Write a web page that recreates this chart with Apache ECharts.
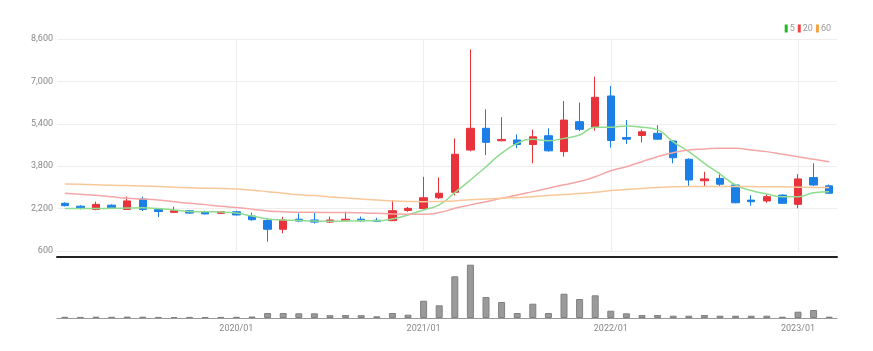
<!DOCTYPE html>
<html>
<head>
<meta charset="utf-8">
<script src="https://cdn.jsdelivr.net/npm/echarts@6/dist/echarts.min.js"></script>
<style>
  html, body { margin: 0; padding: 0; background: #fff; }
  #chart { width: 873px; height: 351px; }
</style>
</head>
<body>
<div id="chart"></div>
<script>
// monthly candles, 2019/02 - 2023/03
var dates = ['2019/02','2019/03','2019/04','2019/05','2019/06','2019/07','2019/08','2019/09','2019/10','2019/11','2019/12',
  '2020/01','2020/02','2020/03','2020/04','2020/05','2020/06','2020/07','2020/08','2020/09','2020/10','2020/11','2020/12',
  '2021/01','2021/02','2021/03','2021/04','2021/05','2021/06','2021/07','2021/08','2021/09','2021/10','2021/11','2021/12',
  '2022/01','2022/02','2022/03','2022/04','2022/05','2022/06','2022/07','2022/08','2022/09','2022/10','2022/11','2022/12',
  '2023/01','2023/02','2023/03'];
var opens  = [2400,2290,2170,2330,2170,2560,2170,2060,2120,2080,2020,2080,1920,1750,1420,1800,1770,1690,1760,1800,1760,1745,2130,
  2200,2610,2815,4410,5230,4760,4790,4620,4950,4350,5480,5270,6450,4880,4960,5040,4750,4060,3250,3340,3090,2520,2490,2710,2360,3370,3060];
var closes = [2310,2210,2360,2230,2490,2170,2090,2120,2030,2000,2080,1960,1780,1420,1770,1730,1690,1770,1800,1740,1720,2120,2210,
  2610,2780,4250,5230,4700,4810,4620,4910,4380,5540,5190,6400,4770,4820,5100,4820,4120,3280,3320,3120,2420,2460,2650,2400,3320,3090,2780];
var lows   = [2280,2170,2140,2200,2150,2110,1880,2030,2000,1980,2000,1940,1740,950,1270,1690,1640,1660,1750,1700,1690,1730,2080,
  2170,2560,2700,4360,4220,4740,4480,3910,4350,4160,5120,5140,4500,4640,4700,4800,3910,3030,3030,3050,2400,2310,2420,2380,2210,3050,2760];
var highs  = [2440,2330,2460,2360,2650,2650,2190,2270,2150,2120,2100,2120,2050,1830,1890,2020,2050,1900,2080,1900,1850,2525,2260,
  3400,3380,4850,8210,5950,5650,5000,5180,5230,6260,6200,7180,6830,5540,5180,5350,4780,4100,3590,3560,3100,2710,2750,2740,3500,3910,3110];
var volumes = [120,110,130,120,140,130,110,100,110,100,110,120,150,500,500,470,470,280,300,280,170,500,330,
  1730,1270,4170,5330,2100,1600,500,1430,500,2430,1900,2270,730,470,300,300,230,230,300,230,230,230,230,130,630,800,130];
var ma5  = [2200,2200,2200,2210,2220,2230,2200,2150,2090,2080,2070,2030,1920,1810,1770,1750,1730,1720,1730,1740,1740,1810,1960,
  2150,2340,2800,3280,3780,4290,4660,4820,4760,4850,4980,5270,5270,5320,5270,5170,4720,4350,3910,3500,3090,2880,2750,2650,2650,2800,2840];
var ma20 = [2780,2740,2700,2650,2590,2560,2520,2460,2400,2350,2290,2240,2180,2110,2080,2060,2060,2050,2050,2040,2020,2000,1990,
  1990,2050,2210,2340,2460,2590,2710,2840,2970,3100,3220,3400,3630,3780,3970,4160,4310,4410,4450,4480,4480,4410,4350,4250,4160,4060,3970];
var ma60 = [3130,3120,3100,3080,3070,3050,3030,3010,2990,2970,2960,2940,2890,2840,2780,2720,2690,2640,2600,2560,2520,2490,2470,
  2460,2470,2490,2530,2560,2590,2620,2650,2690,2730,2770,2820,2880,2920,2960,3000,3020,3030,3030,3030,3030,3030,3020,3020,3010,3000,3000];

var font = 'Roboto';
var isYearStart = function (idx, val) { return /\/01$/.test(val); };

var candles = dates.map(function (d, i) { return [opens[i], closes[i], lows[i], highs[i]]; });

var chart = echarts.init(document.getElementById('chart'));
chart.setOption({
  animation: false,
  legend: {
    right: 37, top: 19,
    itemWidth: 3, itemHeight: 8, itemGap: 3,
    icon: 'rect',
    data: ['5', '20', '60'],
    textStyle: { color: '#999', fontSize: 9, fontFamily: font, padding: [0, 0, 0, -3] }
  },
  grid: [
    { left: 57, right: 36, top: 39, height: 212 },
    { left: 57, right: 36, top: 262, height: 56 }
  ],
  xAxis: [{
    type: 'category', gridIndex: 0, data: dates, boundaryGap: true,
    offset: 6,
    axisLine: { lineStyle: { color: '#222', width: 2 } },
    axisTick: { show: false },
    axisLabel: { show: false },
    splitLine: { show: true, interval: isYearStart, alignWithLabel: true, lineStyle: { color: '#eee' } }
  }, {
    type: 'category', gridIndex: 1, data: dates, boundaryGap: true,
    axisLine: { lineStyle: { color: '#999' } },
    axisTick: { interval: isYearStart, alignWithLabel: true, length: 3, lineStyle: { color: '#555' } },
    axisLabel: { interval: isYearStart, color: '#888', fontSize: 9, fontFamily: font, margin: 6 },
    splitLine: { show: false }
  }],
  yAxis: [{
    type: 'value', gridIndex: 0, min: 600, max: 8600, interval: 1600,
    axisLine: { show: false }, axisTick: { show: false },
    axisLabel: { color: '#888', fontSize: 9, fontFamily: font, margin: 4 },
    splitLine: { lineStyle: { color: '#eee' } }
  }, {
    type: 'value', gridIndex: 1, min: 0, max: 5600,
    axisLine: { show: false }, axisTick: { show: false },
    axisLabel: { show: false }, splitLine: { show: false }
  }],
  series: [{
    type: 'candlestick', name: 'price', xAxisIndex: 0, yAxisIndex: 0,
    data: candles, barWidth: 8,
    itemStyle: { color: '#e8333c', color0: '#1b7fe7', borderColor: '#e8333c', borderColor0: '#1b7fe7', borderWidth: 1 }
  }, {
    type: 'line', name: '5', data: ma5, smooth: true, showSymbol: false, symbol: 'none',
    itemStyle: { color: '#22bb22' }, lineStyle: { color: '#8fdc8f', width: 1.5 }, z: 3
  }, {
    type: 'line', name: '20', data: ma20, smooth: true, showSymbol: false, symbol: 'none',
    itemStyle: { color: '#ee4444' }, lineStyle: { color: '#f4a6a6', width: 1.5 }, z: 3
  }, {
    type: 'line', name: '60', data: ma60, smooth: true, showSymbol: false, symbol: 'none',
    itemStyle: { color: '#f5a040' }, lineStyle: { color: '#f8c89a', width: 1.5 }, z: 3
  }, {
    type: 'bar', name: 'volume', xAxisIndex: 1, yAxisIndex: 1,
    data: volumes, barWidth: 7,
    itemStyle: { color: '#9a9a9a', borderColor: '#808080', borderWidth: 1 }
  }]
});
</script>
</body>
</html>
